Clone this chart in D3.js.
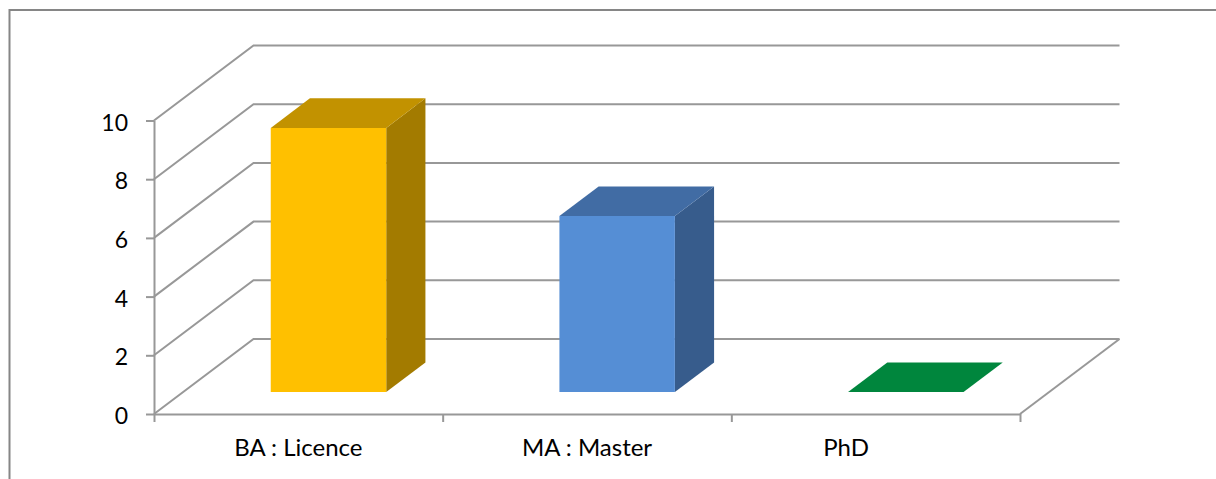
<!DOCTYPE html>
<html>
<head>
<meta charset="utf-8">
<script src="https://cdn.jsdelivr.net/npm/d3@7/dist/d3.min.js"></script>
<style>
  html, body { margin: 0; padding: 0; background: #fff; overflow: hidden; }
  svg { display: block; }
  text { font-family: Lato, "Open Sans", sans-serif; fill: #000; }
</style>
</head>
<body>
<svg id="chart" width="1216" height="479"></svg>
<script>
// Degree levels and how many respondents hold each one
const categories = ["BA : Licence", "MA : Master", "PhD"];
const counts = [9, 6, 0];
const valueTicks = [0, 2, 4, 6, 8, 10];
const frontColors = ["#FFC000", "#558ED5", "#00863D"];
const topColors = ["#C29200", "#416CA4", "#00863D"];
const sideColors = ["#A37B00", "#375C8C", "#00863D"];

const width = 1216, height = 479;
const left = 154, right = 1020, floorY = 414, topY = 120.5;
const depthX = 99.5, depthY = 75;      // oblique projection of the chart's depth
const barNear = 0.293, barFar = 0.687; // bar position along the depth axis
const gridColor = "#989898";
const gridWidth = 2;

const svg = d3.select("#chart");

const y = d3.scaleLinear().domain([0, 10]).range([floorY, topY]);
const x = d3.scaleBand().domain(categories).range([left + 1, right + 1])
  .paddingInner(0.6).paddingOuter(0.3);
const slots = d3.scaleLinear().domain([0, categories.length]).range([left, right]);

// Projects a point given by plot x, value and depth fraction onto the page
const project = (px, value, depth) => [px + depth * depthX, y(value) - depth * depthY];
const poly = pts => pts.map(p => p.join(",")).join(" ");

// Chart area border; it runs off the top right of the page
svg.append("path")
  .attr("d", `M9.5,${height + 2}V10H${width + 2}`)
  .attr("fill", "none").attr("stroke", "#868686").attr("stroke-width", 2);

// Gridlines on the side wall and back wall
const grid = svg.append("g").attr("fill", "none")
  .attr("stroke", gridColor).attr("stroke-width", gridWidth);
grid.selectAll("polyline").data(valueTicks).join("polyline")
  .attr("points", v => poly([project(left, v, 0), project(left, v, 1), project(right, v, 1)]));

// Right edge of the floor
grid.append("polyline")
  .attr("points", poly([project(right, 0, 0), project(right, 0, 1)]));

// Value axis
const yAxis = svg.append("g").attr("transform", `translate(${left},0)`)
  .call(d3.axisLeft(y).tickValues(valueTicks).tickSize(8).tickPadding(18).tickSizeOuter(0));
yAxis.select(".domain").attr("stroke", gridColor).attr("stroke-width", gridWidth);
yAxis.selectAll(".tick line").attr("stroke", gridColor).attr("stroke-width", gridWidth);
yAxis.selectAll(".tick text").attr("font-size", 23).attr("dy", "0.42em")
  .style("font-family", "Lato, sans-serif").attr("fill", "#000");

// Category axis: ticks mark the slot boundaries
const xAxis = svg.append("g").attr("transform", `translate(0,${floorY})`)
  .call(d3.axisBottom(slots).ticks(categories.length).tickSize(8).tickSizeOuter(0).tickFormat(""));
xAxis.select(".domain").attr("stroke", gridColor).attr("stroke-width", gridWidth);
xAxis.selectAll(".tick line").attr("stroke", gridColor).attr("stroke-width", gridWidth);

// Category labels, the last one sits left of its slot centre
svg.append("g").selectAll("text").data(categories).join("text")
  .attr("x", (d, i) => slots(i + 0.5) - (i === categories.length - 1 ? 29.5 : 0))
  .attr("y", 456)
  .attr("text-anchor", "middle")
  .attr("font-size", 24)
  .text(d => d);

// Bars: side, top and front faces
const bars = svg.append("g").selectAll("g").data(categories).join("g");
const x0 = d => x(d), x1 = d => x(d) + x.bandwidth();

bars.append("polygon")
  .attr("fill", (d, i) => sideColors[i])
  .attr("points", (d, i) => poly([
    project(x1(d), 0, barNear), project(x1(d), counts[i], barNear),
    project(x1(d), counts[i], barFar), project(x1(d), 0, barFar)]));

bars.append("polygon")
  .attr("fill", (d, i) => topColors[i])
  .attr("points", (d, i) => poly([
    project(x0(d), counts[i], barNear), project(x1(d), counts[i], barNear),
    project(x1(d), counts[i], barFar), project(x0(d), counts[i], barFar)]));

bars.append("polygon")
  .attr("fill", (d, i) => frontColors[i])
  .attr("points", (d, i) => poly([
    project(x0(d), 0, barNear), project(x1(d), 0, barNear),
    project(x1(d), counts[i], barNear), project(x0(d), counts[i], barNear)]));
</script>
</body>
</html>
